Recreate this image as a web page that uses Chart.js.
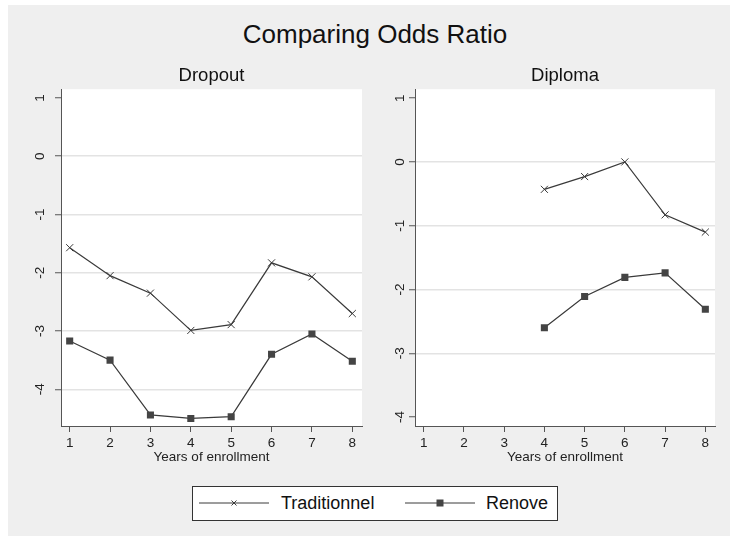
<!DOCTYPE html>
<html>
<head>
<meta charset="utf-8">
<script src="https://cdn.jsdelivr.net/npm/chart.js@4/dist/chart.umd.min.js"></script>
<style>
  html, body { margin: 0; padding: 0; background: #fff; }
  #page { position: relative; width: 730px; height: 536px; overflow: hidden; background: #fff;
          font-family: "Liberation Sans", Arial, sans-serif; }
  #bg { position: absolute; left: 8px; top: 5px; width: 722px; height: 531px; background: #efefef; }
  #title { position: absolute; left: 375px; top: 19px; transform: translateX(-50%);
           font-size: 26px; line-height: 30px; color: #111; white-space: nowrap; }
  canvas { position: absolute; top: 0; }
  #cLeft { left: 0; }
  #cRight { left: 354px; }
  #legend { position: absolute; left: 192px; top: 486px; width: 364px; height: 33px;
            background: #fff; border: 1px solid #333; }
  #legend svg { position: absolute; top: 10px; }
  #legend span { position: absolute; top: 6px; font-size: 18px; line-height: 20px; color: #111; white-space: nowrap; }
</style>
</head>
<body>
<div id="page">
  <div id="bg"></div>
  <div id="title">Comparing Odds Ratio</div>
  <canvas id="cLeft" width="370" height="470"></canvas>
  <canvas id="cRight" width="370" height="470"></canvas>
  <div id="legend">
    <svg style="left:6px" width="70" height="12">
      <line x1="0" y1="6" x2="70" y2="6" stroke="#3a3a3a" stroke-width="1"/>
      <line x1="32.5" y1="3.5" x2="37.5" y2="8.5" stroke="#3a3a3a" stroke-width="1"/>
      <line x1="32.5" y1="8.5" x2="37.5" y2="3.5" stroke="#3a3a3a" stroke-width="1"/>
    </svg>
    <span style="left:88px">Traditionnel</span>
    <svg style="left:212px" width="70" height="12">
      <line x1="0" y1="6" x2="70" y2="6" stroke="#3a3a3a" stroke-width="1"/>
      <rect x="31.5" y="2.5" width="7" height="7" fill="#444"/>
    </svg>
    <span style="left:293px">Renove</span>
  </div>
</div>
<script>
// Years on the horizontal axis and the y tick values
const years = [1, 2, 3, 4, 5, 6, 7, 8];
const yTicks = [-4, -3, -2, -1, 0, 1];

// Log odds ratios, dropout panel
const dropoutTraditionnel = [-1.57, -2.05, -2.35, -2.99, -2.89, -1.83, -2.07, -2.70];
const dropoutRenove       = [-3.17, -3.50, -4.44, -4.50, -4.47, -3.40, -3.05, -3.52];

// Log odds ratios, diploma panel (no estimates for the first three years)
const diplomaTraditionnel = [null, null, null, -0.43, -0.23, 0.00, -0.83, -1.10];
const diplomaRenove       = [null, null, null, -2.60, -2.11, -1.81, -1.74, -2.31];

const FONT = '"Liberation Sans", Arial, sans-serif';
const LINE = '#3a3a3a';
const AXIS = '#555';

function points(vals) {
  return years.map((x, i) => ({ x: x, y: vals[i] }));
}

// White plotting region
const plotBg = {
  id: 'plotBg',
  beforeDraw(chart) {
    const { ctx, chartArea: a } = chart;
    ctx.save();
    ctx.fillStyle = '#fff';
    ctx.fillRect(a.left, a.top, a.right - a.left, a.bottom - a.top);
    ctx.restore();
  }
};

function makePanel(id, cfg) {
  return new Chart(document.getElementById(id), {
    type: 'line',
    data: {
      datasets: [
        {
          label: 'Traditionnel',
          data: points(cfg.trad),
          borderColor: LINE, borderWidth: 1.2, tension: 0, fill: false,
          pointStyle: 'crossRot', pointRadius: 5,
          pointBorderColor: LINE, pointBackgroundColor: LINE, pointBorderWidth: 1
        },
        {
          label: 'Renove',
          data: points(cfg.renove),
          borderColor: LINE, borderWidth: 1.2, tension: 0, fill: false,
          pointStyle: 'rect', pointRadius: 5,
          pointBorderColor: '#444', pointBackgroundColor: '#444', pointBorderWidth: 0
        }
      ]
    },
    options: {
      responsive: false,
      animation: false,
      devicePixelRatio: 1,
      events: [],
      layout: { padding: { left: 0, right: cfg.padRight, top: 0, bottom: 0 } },
      plugins: {
        legend: { display: false },
        tooltip: { enabled: false },
        title: {
          display: true, text: cfg.title, fullSize: false, color: '#111',
          font: { family: FONT, size: 18.5, weight: 'normal' },
          padding: { top: 65, bottom: 2 }
        }
      },
      scales: {
        x: {
          type: 'linear', min: 0.785, max: 8.24,
          afterBuildTicks: s => { s.ticks = years.map(v => ({ value: v })); },
          afterFit: s => { s.height = 44; },
          grid: { drawOnChartArea: false, drawTicks: true, tickLength: 6, tickColor: AXIS, tickWidth: 1 },
          border: { display: true, color: AXIS, width: 1 },
          ticks: { autoSkip: false, minRotation: 0, maxRotation: 0, padding: 3, color: '#222',
                   font: { family: FONT, size: 13.5 }, callback: v => String(v) },
          title: { display: true, text: 'Years of enrollment', color: '#222',
                   font: { family: FONT, size: 13.5 }, padding: { top: 0, bottom: 5 } }
        },
        y: {
          type: 'linear', min: cfg.yMin, max: cfg.yMax,
          afterBuildTicks: s => { s.ticks = yTicks.map(v => ({ value: v })); },
          afterFit: s => { s.width = 61; },
          grid: {
            color: c => (c.tick && cfg.noGrid.includes(c.tick.value)) ? 'rgba(0,0,0,0)' : '#e3e3e3',
            lineWidth: 1.5, drawTicks: true, tickLength: 6, tickColor: AXIS, tickWidth: 1
          },
          border: { display: true, color: AXIS, width: 1 },
          ticks: { autoSkip: false, minRotation: 90, maxRotation: 90, crossAlign: 'center',
                   padding: cfg.labelPad, color: '#222',
                   font: { family: FONT, size: 13.5 }, callback: v => String(v) }
        }
      }
    },
    plugins: [plotBg]
  });
}

makePanel('cLeft', {
  title: 'Dropout', trad: dropoutTraditionnel, renove: dropoutRenove,
  yMin: -4.63, yMax: 1.15, noGrid: [1], labelPad: 8.8, padRight: 8
});

makePanel('cRight', {
  title: 'Diploma', trad: diplomaTraditionnel, renove: diplomaRenove,
  yMin: -4.14, yMax: 1.14, noGrid: [1, -4], labelPad: 3.1, padRight: 9
});
</script>
</body>
</html>
